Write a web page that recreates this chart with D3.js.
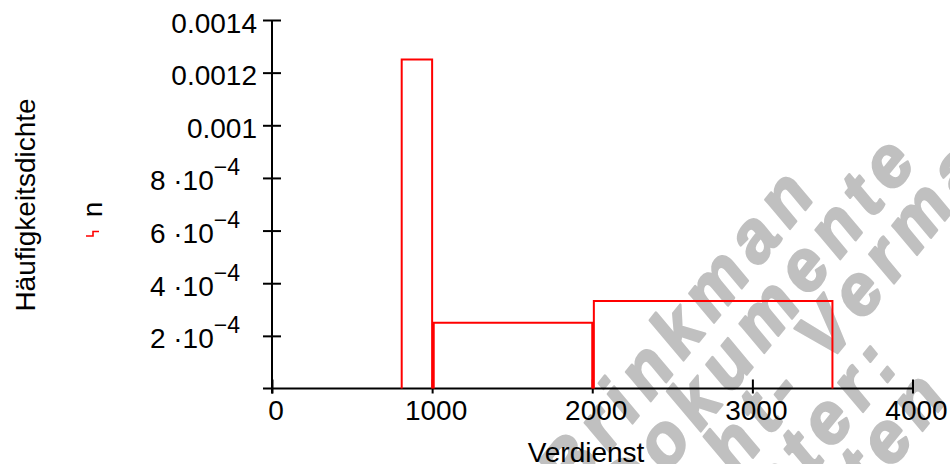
<!DOCTYPE html>
<html>
<head>
<meta charset="utf-8">
<script src="https://cdn.jsdelivr.net/npm/d3@7"></script>
<style>
  body { margin: 0; background: #fff; }
  text { font-family: "Liberation Sans", Arial, sans-serif; }
</style>
</head>
<body>
<div class="container"></div>
<script>
// class borders and densities
var binStart = [810, 1010, 2010];
var binEnd = [1000, 2000, 3500];
var density = [0.00125, 0.00025, 0.000332];

var xTicks = [0, 1000, 2000, 3000, 4000];
var xTickLabels = ["0", "1000", "2000", "3000", "4000"];
var yTicks = [0.0002, 0.0004, 0.0006, 0.0008, 0.001, 0.0012, 0.0014];
var yTickBase = ["2 \u00b710", "4 \u00b710", "6 \u00b710", "8 \u00b710", "0.001", "0.0012", "0.0014"];
var yTickSup = ["\u22124", "\u22124", "\u22124", "\u22124", "", "", ""];

// watermark lines (slanted frame: along / across the lines)
var wmText = ["Brinkman", "Dokumente", "nicht- Vermarkten", "unter:", "verboten"];
var wmAlong = [-29, -8, -37, 36, -75];
var wmAcross = [758, 816, 873, 930, 988];

var W = 950, H = 464;

//Makes the stage
function makeStage(w, h) {
    var stage = d3.select(".container")
      .append("svg")
      .attr("width", w)
      .attr("height", h);
    return stage;
}

var stage = makeStage(W, H);

var x = d3.scaleLinear().domain([0, 4000]).range([272, 912.5]);
var y = d3.scaleLinear().domain([0, 0.0014]).range([388.5, 20]);

// watermark behind everything
var wm = stage.append("g")
  .attr("transform", "rotate(-51)");
wm.selectAll("text")
  .data(wmText)
  .enter().append("text")
  .attr("x", function(d, i) { return wmAlong[i]; })
  .attr("y", function(d, i) { return wmAcross[i]; })
  .attr("font-size", 71)
  .attr("font-weight", "bold")
  .attr("font-style", "italic")
  .attr("letter-spacing", 9)
  .attr("fill", "#c0c0c0")
  .attr("stroke", "#c0c0c0")
  .attr("stroke-width", 2.5)
  .attr("stroke-linejoin", "round")
  .text(function(d) { return d; });

// y axis
var yAxis = d3.axisLeft(y).tickValues(yTicks).tickSize(9).tickFormat("").tickSizeOuter(0);
var gy = stage.append("g")
  .attr("transform", "translate(" + x(0) + ",0)")
  .call(yAxis);
gy.selectAll(".tick line").attr("x1", 9);
gy.select(".domain").remove();
gy.append("line")
  .attr("x1", 0).attr("x2", 0)
  .attr("y1", y(0.0014)).attr("y2", y(0) + 5);
gy.selectAll("line").attr("stroke", "#000").attr("stroke-width", 2);

// x axis
var xAxis = d3.axisBottom(x).tickValues(xTicks).tickSize(5).tickFormat("").tickSizeOuter(0);
var gx = stage.append("g")
  .attr("transform", "translate(0," + y(0) + ")")
  .call(xAxis);
gx.selectAll(".tick line").attr("y1", -9);
gx.select(".domain").remove();
gx.append("line")
  .attr("x1", x(0) - 9).attr("x2", x(4000))
  .attr("y1", 0).attr("y2", 0);
gx.selectAll("line").attr("stroke", "#000").attr("stroke-width", 2);

// y tick labels
yTicks.forEach(function(v, i) {
    var t = stage.append("text")
      .attr("x", yTickSup[i] ? 240 : 257)
      .attr("y", y(v) + 12.5)
      .attr("text-anchor", "end")
      .attr("font-size", 28)
      .text(yTickBase[i]);
    if (yTickSup[i]) {
        t.append("tspan")
          .attr("dy", -15)
          .attr("font-size", 23)
          .text(yTickSup[i]);
    }
});

// x tick labels
stage.selectAll(".xlab")
  .data(xTicks)
  .enter().append("text")
  .attr("class", "xlab")
  .attr("x", function(d) { return x(d) + 4; })
  .attr("y", y(0) + 31)
  .attr("text-anchor", "middle")
  .attr("font-size", 28)
  .text(function(d, i) { return xTickLabels[i]; });

// axis titles
stage.append("text")
  .attr("x", 586).attr("y", 462)
  .attr("text-anchor", "middle")
  .attr("font-size", 28)
  .text("Verdienst");

stage.append("text")
  .attr("transform", "translate(35,205) rotate(-90)")
  .attr("text-anchor", "middle")
  .attr("font-size", 28)
  .text("Häufigkeitsdichte");

// legend
stage.append("text")
  .attr("transform", "translate(102,209.5) rotate(-90)")
  .attr("text-anchor", "middle")
  .attr("font-size", 28)
  .text("n");
stage.append("path")
  .attr("d", "M86,236 H93 V231.5 H99")
  .attr("fill", "none")
  .attr("stroke", "red")
  .attr("stroke-width", 1.6);

// histogram steps
stage.selectAll(".bar")
  .data(density)
  .enter().append("path")
  .attr("class", "bar")
  .attr("d", function(d, i) {
      return "M" + x(binStart[i]) + "," + y(0) +
             " V" + y(d) + " H" + x(binEnd[i]) + " V" + y(0);
  })
  .attr("fill", "none")
  .attr("stroke", "red")
  .attr("stroke-width", 2);
</script>
</body>
</html>
